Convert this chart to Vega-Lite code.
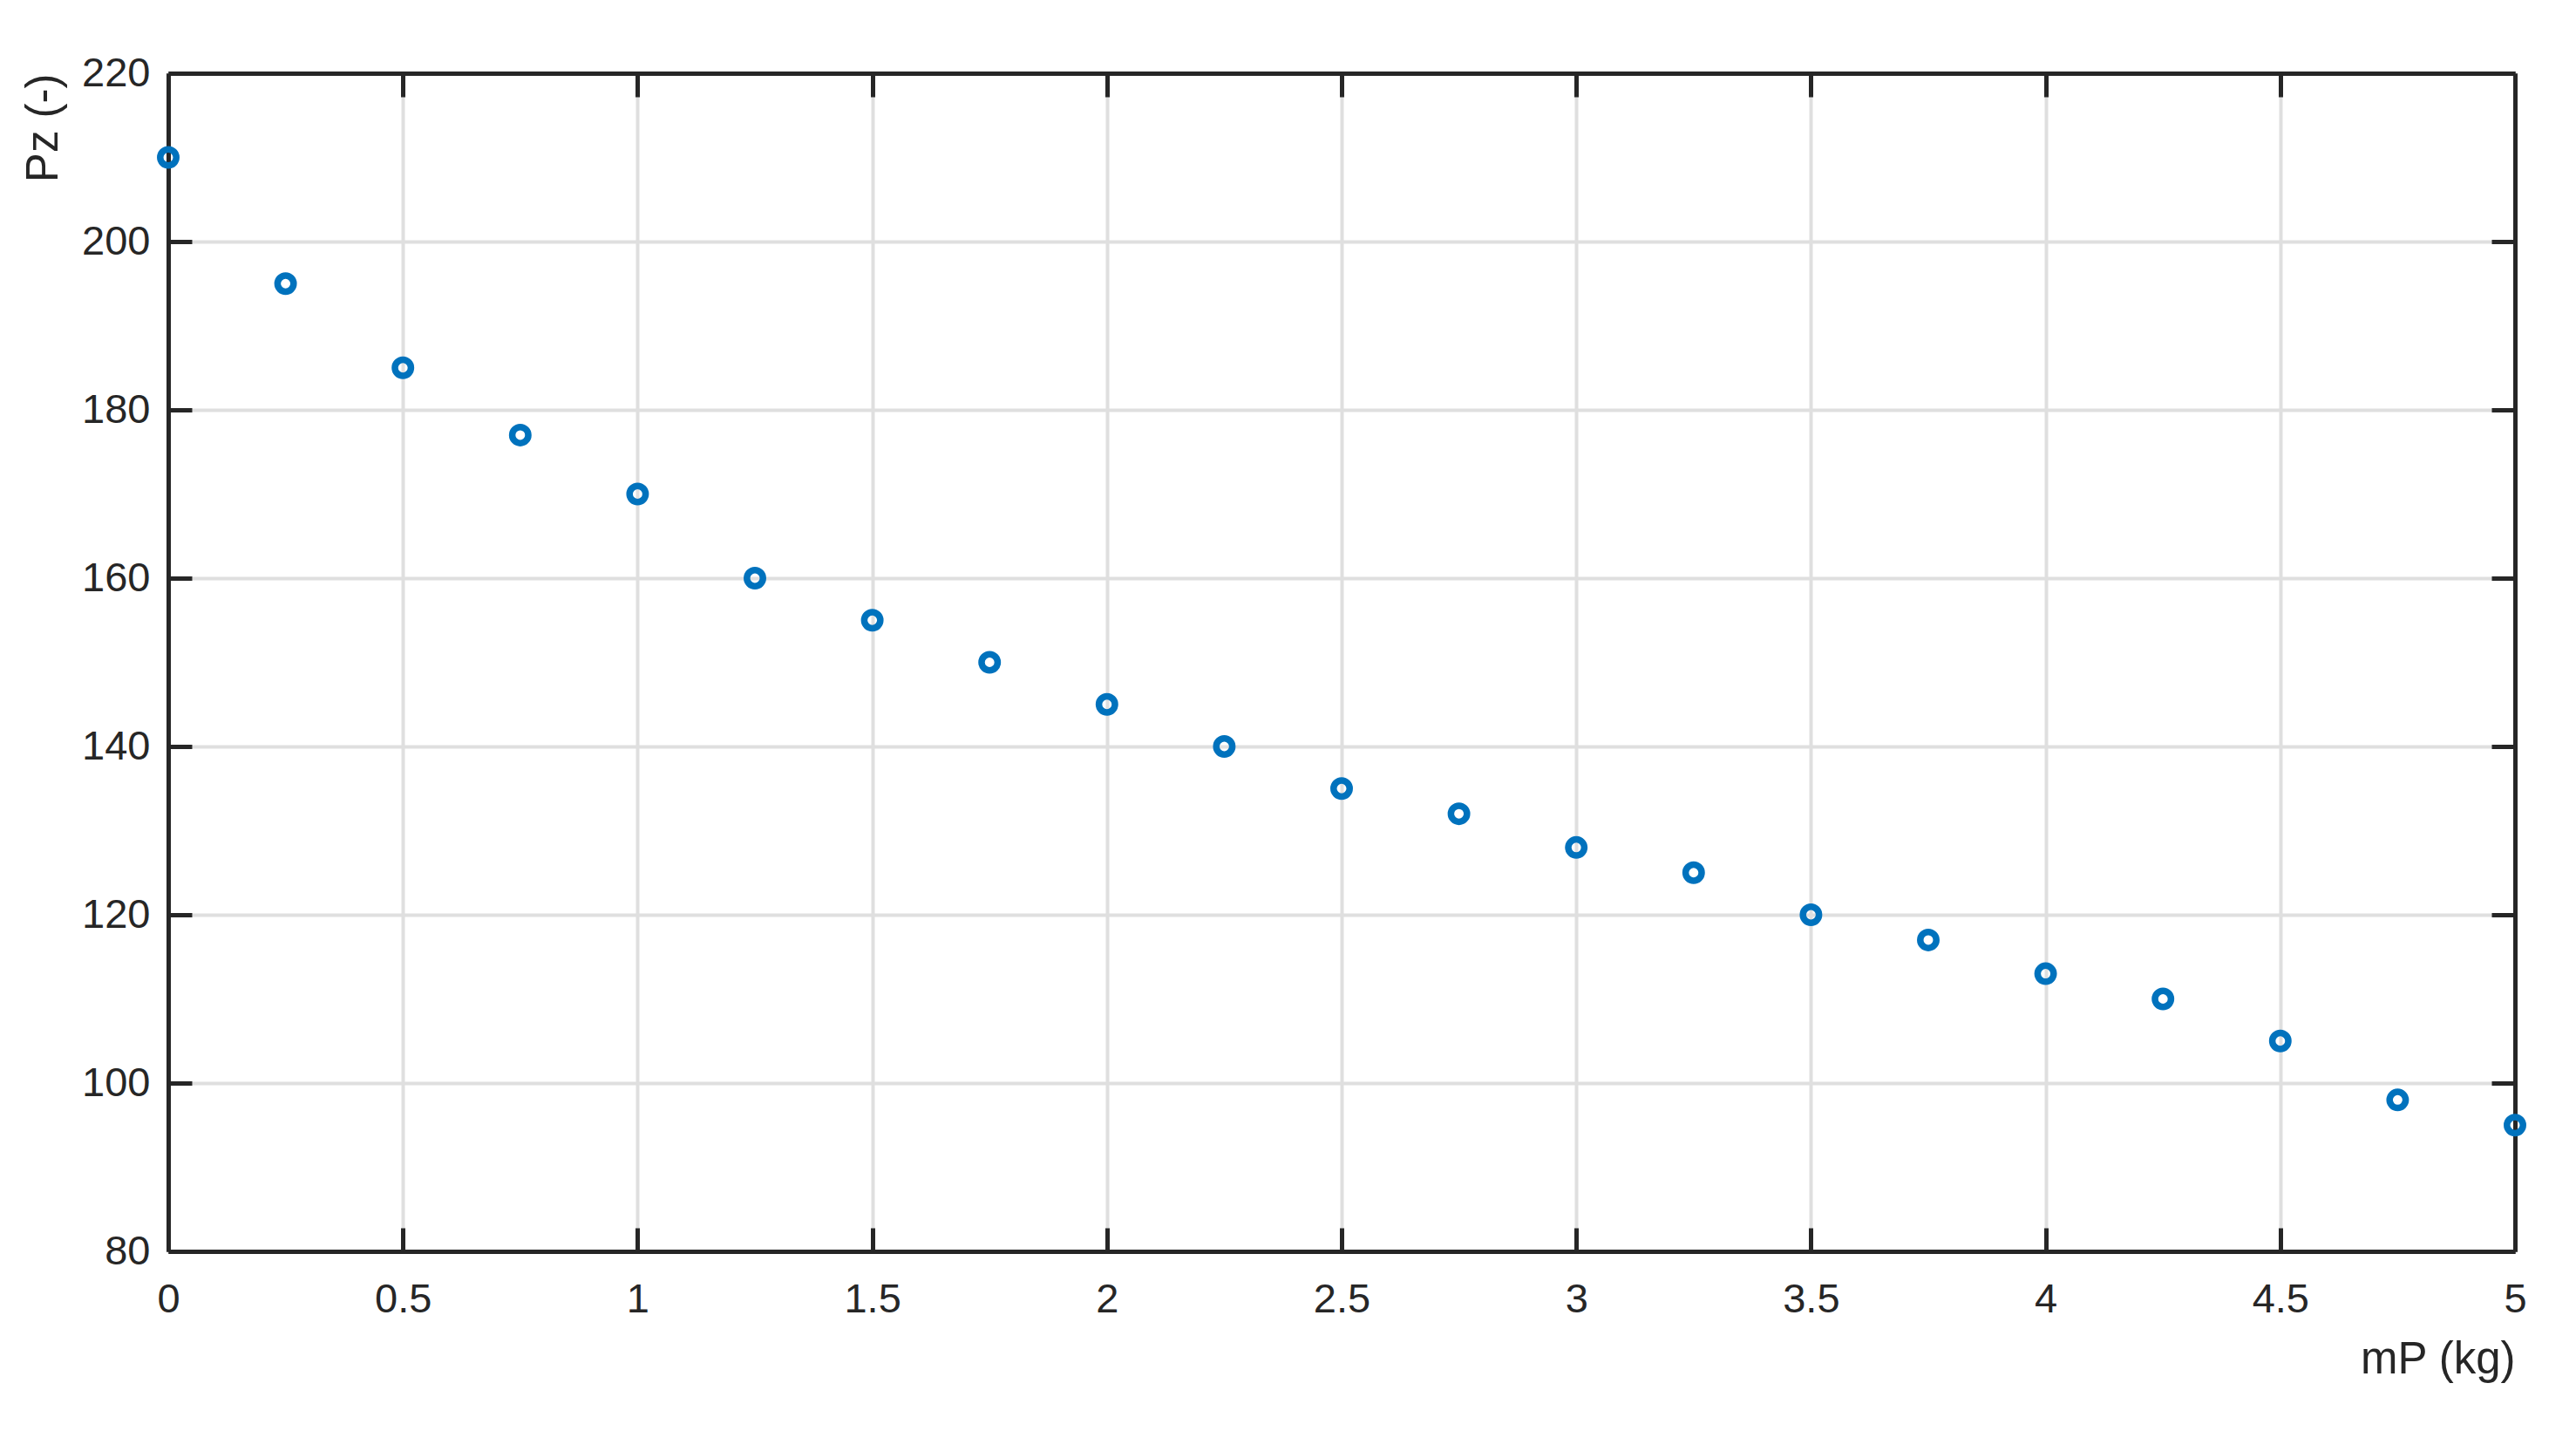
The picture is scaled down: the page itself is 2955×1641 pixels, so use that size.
{
  "$schema": "https://vega.github.io/schema/vega-lite/v6.json",
  "width": 2692,
  "height": 1351,
  "autosize": {"type": "none"},
  "padding": {"left": 193, "top": 84, "right": 70, "bottom": 206},
  "background": "white",
  "config": {
    "view": {"stroke": null},
    "font": "Liberation Sans",
    "axis": {
      "domainColor": "#262626",
      "domainWidth": 5,
      "tickColor": "#262626",
      "tickWidth": 5,
      "tickSize": -27,
      "gridColor": "#dfdfdf",
      "gridWidth": 4,
      "labelColor": "#262626",
      "labelFontSize": 47,
      "labelFont": "Liberation Sans",
      "labelFlush": false,
      "labelOverlap": false,
      "titleColor": "#262626",
      "titleFont": "Liberation Sans",
      "titleFontSize": 51,
      "titleFontWeight": "normal"
    }
  },
  "data": {
    "values": [
      {"mP": 0, "Pz": 210},
      {"mP": 0.25, "Pz": 195},
      {"mP": 0.5, "Pz": 185},
      {"mP": 0.75, "Pz": 177},
      {"mP": 1, "Pz": 170},
      {"mP": 1.25, "Pz": 160},
      {"mP": 1.5, "Pz": 155},
      {"mP": 1.75, "Pz": 150},
      {"mP": 2, "Pz": 145},
      {"mP": 2.25, "Pz": 140},
      {"mP": 2.5, "Pz": 135},
      {"mP": 2.75, "Pz": 132},
      {"mP": 3, "Pz": 128},
      {"mP": 3.25, "Pz": 125},
      {"mP": 3.5, "Pz": 120},
      {"mP": 3.75, "Pz": 117},
      {"mP": 4, "Pz": 113},
      {"mP": 4.25, "Pz": 110},
      {"mP": 4.5, "Pz": 105},
      {"mP": 4.75, "Pz": 98},
      {"mP": 5, "Pz": 95}
    ]
  },
  "resolve": {"axis": {"x": "independent", "y": "independent"}},
  "layer": [
    {
      "mark": {"type": "point", "opacity": 0, "clip": false},
      "encoding": {
        "x": {"field": "mP", "type": "quantitative",
              "scale": {"domain": [0, 5], "nice": false, "zero": false},
              "axis": {"orient": "top", "labels": false, "grid": false, "title": null, "values": [0,0.5,1,1.5,2,2.5,3,3.5,4,4.5,5]}},
        "y": {"field": "Pz", "type": "quantitative",
              "scale": {"domain": [80, 220], "nice": false, "zero": false},
              "axis": {"orient": "right", "labels": false, "grid": false, "title": null, "values": [80,100,120,140,160,180,200,220]}}
      }
    },
    {
      "mark": {"type": "point", "filled": false, "color": "#0072BD", "strokeWidth": 7.5, "size": 340, "opacity": 1, "clip": false},
      "encoding": {
        "x": {"field": "mP", "type": "quantitative",
              "scale": {"domain": [0, 5], "nice": false, "zero": false},
              "axis": {"orient": "bottom", "title": "mP (kg)", "titleAnchor": "end", "format": "~g", "grid": true, "labelPadding": 59, "titlePadding": 21, "values": [0,0.5,1,1.5,2,2.5,3,3.5,4,4.5,5], "zindex": 0}},
        "y": {"field": "Pz", "type": "quantitative",
              "scale": {"domain": [80, 220], "nice": false, "zero": false},
              "axis": {"orient": "left", "title": "Pz (-)", "titleAnchor": "end", "grid": true, "labelPadding": 48, "titlePadding": 17, "values": [80,100,120,140,160,180,200,220], "zindex": 0}}
      }
    }
  ]
}
